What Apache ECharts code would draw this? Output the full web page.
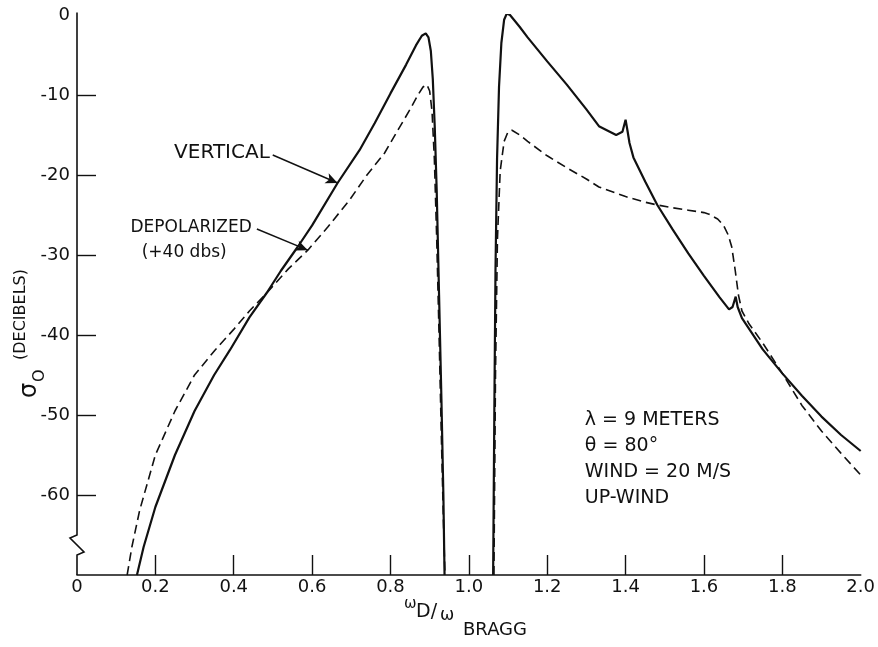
<!DOCTYPE html>
<html>
<head>
<meta charset="utf-8">
<script src="https://cdn.jsdelivr.net/npm/echarts@6/dist/echarts.min.js"></script>
<style>
  html, body { margin: 0; padding: 0; background: #fff; }
  #chart { width: 878px; height: 647px; }
</style>
</head>
<body>
<div id="chart"></div>
<script>
// Axis ticks and labels
const xLabelValues = [0, 0.2, 0.4, 0.6, 0.8, 1.0, 1.2, 1.4, 1.6, 1.8, 2.0];
const xLabelTexts  = ['0', '0.2', '0.4', '0.6', '0.8', '1.0', '1.2', '1.4', '1.6', '1.8', '2.0'];
const xTickValues  = [0.2, 0.4, 0.6, 0.8, 1.0, 1.2, 1.4, 1.6, 1.8];
const yLabelValues = [0, -10, -20, -30, -40, -50, -60];
const yTickValues  = [-10, -20, -30, -40, -50, -60];

// VERTICAL polarization, lower side band (ωD/ωBRAGG < 1)
const vertLowX = [0.153, 0.17, 0.2, 0.25, 0.3, 0.35, 0.39, 0.44, 0.484, 0.52, 0.563, 0.6, 0.665, 0.721, 0.76, 0.8, 0.84, 0.865, 0.88, 0.89, 0.897, 0.903, 0.908, 0.913, 0.918, 0.924, 0.93, 0.935, 0.938];
const vertLowY = [-70, -66.5, -61.5, -55, -49.5, -45, -41.9, -37.8, -34.75, -32, -29, -26.3, -21, -16.9, -13.5, -9.8, -6.2, -3.8, -2.6, -2.3, -2.8, -4.5, -8, -14, -22, -35, -48, -60, -70];

// VERTICAL polarization, upper side band (ωD/ωBRAGG > 1)
const vertHighX = [1.062, 1.065, 1.068, 1.072, 1.077, 1.083, 1.09, 1.097, 1.105, 1.115, 1.13, 1.15, 1.2, 1.25, 1.3, 1.332, 1.376, 1.392, 1.4, 1.405, 1.41, 1.42, 1.45, 1.481, 1.52, 1.56, 1.6, 1.64, 1.664, 1.673, 1.681, 1.686, 1.697, 1.75, 1.8, 1.85, 1.9, 1.95, 2.0];
const vertHighY = [-70, -50, -32, -18, -9, -3.5, -0.6, 0.2, 0, -0.6, -1.5, -2.8, -5.8, -8.7, -11.8, -13.9, -15, -14.6, -13.1, -14.5, -16, -17.8, -20.8, -23.75, -26.8, -29.8, -32.6, -35.3, -36.8, -36.5, -35.2, -36.5, -37.9, -41.8, -44.8, -47.6, -50.2, -52.5, -54.5];

// DEPOLARIZED (+40 dbs), lower side band
const depLowX = [0.128, 0.14, 0.16, 0.2, 0.25, 0.3, 0.352, 0.4, 0.44, 0.484, 0.54, 0.589, 0.64, 0.696, 0.74, 0.785, 0.82, 0.85, 0.87, 0.883, 0.893, 0.9, 0.906, 0.912, 0.918, 0.924, 0.93, 0.935, 0.939];
const depLowY = [-70, -66.5, -61.9, -55, -49.5, -45, -41.9, -39.3, -37, -34.75, -31.7, -29.4, -26.5, -23.1, -20, -17.25, -14.3, -11.8, -10, -9, -8.7, -9.5, -12, -18, -28, -40, -53, -63, -70];

// DEPOLARIZED (+40 dbs), upper side band
const depHighX = [1.064, 1.068, 1.073, 1.08, 1.09, 1.1, 1.11, 1.13, 1.15, 1.2, 1.25, 1.3, 1.332, 1.4, 1.45, 1.481, 1.52, 1.56, 1.6, 1.613, 1.635, 1.65, 1.662, 1.671, 1.68, 1.688, 1.697, 1.715, 1.75, 1.8, 1.85, 1.9, 1.95, 2.0];
const depHighY = [-70, -45, -28, -19.5, -15.8, -14.6, -14.4, -15, -15.8, -17.6, -19.1, -20.5, -21.5, -22.7, -23.4, -23.75, -24.1, -24.4, -24.7, -24.9, -25.5, -26.3, -27.5, -29, -32, -35, -37, -38.6, -41, -44.8, -48.8, -52, -54.8, -57.5];

// Radar parameters printed inside the plot
const infoLines = ['λ = 9 METERS', 'θ = 80°', 'WIND = 20 M/S', 'UP-WIND'];

const FONT = '"DejaVu Sans", "Liberation Sans", sans-serif';
const INK = '#111';
const pair = (xs, ys) => xs.map((x, i) => [x, ys[i]]);

const chart = echarts.init(document.getElementById('chart'));

const solidStyle = { color: INK, width: 2.2 };
const dashStyle = { color: INK, width: 1.6, type: [9, 5] };

const lineSeries = (name, data, style) => ({
  name, type: 'line', data, showSymbol: false, symbol: 'none',
  lineStyle: style, silent: true, z: 3
});

const arrowLine = (from, to) => [
  { coord: from, symbol: 'none' },
  { coord: to, symbol: 'arrow' }
];

chart.setOption({
  animation: false,
  backgroundColor: '#fff',
  grid: { left: 77, right: 16, top: 15, bottom: 72 },
  xAxis: {
    type: 'value', min: 0, max: 2,
    axisLine: { show: true, onZero: false, lineStyle: { color: INK, width: 1.6 } },
    axisTick: { show: true, inside: true, length: 20, customValues: xTickValues, lineStyle: { color: INK, width: 1.4 } },
    axisLabel: {
      customValues: xLabelValues,
      formatter: v => xLabelTexts[xLabelValues.findIndex(t => Math.abs(t - v) < 1e-6)],
      color: INK, fontFamily: FONT, fontSize: 18, margin: 3
    },
    splitLine: { show: false }
  },
  yAxis: {
    type: 'value', min: -70, max: 0,
    axisLine: { show: false, onZero: false },
    axisTick: { show: true, inside: true, length: 19, customValues: yTickValues, lineStyle: { color: INK, width: 1.4 } },
    axisLabel: { customValues: yLabelValues, color: INK, fontFamily: FONT, fontSize: 18, margin: 7 },
    splitLine: { show: false }
  },
  series: [
    lineSeries('VERTICAL', pair(vertLowX, vertLowY), solidStyle),
    lineSeries('VERTICAL', pair(vertHighX, vertHighY), solidStyle),
    lineSeries('DEPOLARIZED', pair(depLowX, depLowY), dashStyle),
    lineSeries('DEPOLARIZED', pair(depHighX, depHighY), dashStyle),
    {
      type: 'line', data: [], silent: true,
      markLine: {
        silent: true, animation: false,
        symbolSize: [8, 12],
        label: { show: false },
        lineStyle: { color: INK, width: 1.4, type: 'solid' },
        emphasis: { disabled: true },
        data: [
          arrowLine([0.4995, -17.5], [0.665, -21]),
          arrowLine([0.459, -26.75], [0.589, -29.4])
        ]
      }
    }
  ]
});

// Overlay: broken y axis line, axis titles and annotation text
const px = (x, y) => chart.convertToPixel({ gridIndex: 0 }, [x, y]);
const axTop = px(0, 0.3), axBreak = px(0, -65), axBottom = px(0, -70);
const ax = axTop[0];
const textStyle = (extra) => Object.assign({ fill: INK, fontFamily: FONT }, extra);

const graphics = [
  {
    type: 'polyline', silent: true, z: 10,
    shape: { points: [
      [ax, axTop[1]], [ax, axBreak[1]], [ax - 7, axBreak[1] + 3], [ax + 7, axBreak[1] + 17],
      [ax, axBreak[1] + 20], [ax, axBottom[1]]
    ] },
    style: { stroke: INK, lineWidth: 1.6, fill: null }
  }
];

// annotation labels for the two curves (anchored at their right ends)
const vLab = px(0.492, -17.25);
graphics.push({ type: 'text', silent: true, x: vLab[0], y: vLab[1],
  style: textStyle({ text: 'VERTICAL', fontSize: 20, verticalAlign: 'middle', align: 'right' }) });
const dLab = px(0.446, -26.6);
graphics.push({ type: 'text', silent: true, x: dLab[0], y: dLab[1],
  style: textStyle({ text: 'DEPOLARIZED', fontSize: 17, verticalAlign: 'middle', align: 'right' }) });
const dLab2 = px(0.382, -29.75);
graphics.push({ type: 'text', silent: true, x: dLab2[0], y: dLab2[1],
  style: textStyle({ text: '(+40 dbs)', fontSize: 17, verticalAlign: 'middle', align: 'right' }) });

// parameter block
infoLines.forEach((t, i) => {
  const p = px(1.296, -50.6 - i * 3.25);
  graphics.push({ type: 'text', silent: true, x: p[0], y: p[1],
    style: textStyle({ text: t, fontSize: 19, verticalAlign: 'middle', align: 'left' }) });
});

// x axis title  ωD/ω BRAGG
graphics.push(
  { type: 'text', silent: true, x: 404, y: 604, style: textStyle({ text: 'ω', fontSize: 15, verticalAlign: 'middle' }) },
  { type: 'text', silent: true, x: 416, y: 612, style: textStyle({ text: 'D/', fontSize: 19, verticalAlign: 'middle' }) },
  { type: 'text', silent: true, x: 440, y: 616, style: textStyle({ text: 'ω', fontSize: 17, verticalAlign: 'middle' }) },
  { type: 'text', silent: true, x: 463, y: 630, style: textStyle({ text: 'BRAGG', fontSize: 18, verticalAlign: 'middle' }) }
);

// y axis title  σ0 (DECIBELS), rotated
graphics.push(
  { type: 'text', silent: true, x: 30, y: 398, rotation: Math.PI / 2,
    style: textStyle({ text: 'σ', fontSize: 24, verticalAlign: 'middle', align: 'left' }) },
  { type: 'text', silent: true, x: 40, y: 382, rotation: Math.PI / 2,
    style: textStyle({ text: 'O', fontSize: 16, verticalAlign: 'middle', align: 'left' }) },
  { type: 'text', silent: true, x: 21, y: 360, rotation: Math.PI / 2,
    style: textStyle({ text: '(DECIBELS)', fontSize: 16, verticalAlign: 'middle', align: 'left' }) }
);

chart.setOption({ graphic: graphics });
</script>
</body>
</html>
